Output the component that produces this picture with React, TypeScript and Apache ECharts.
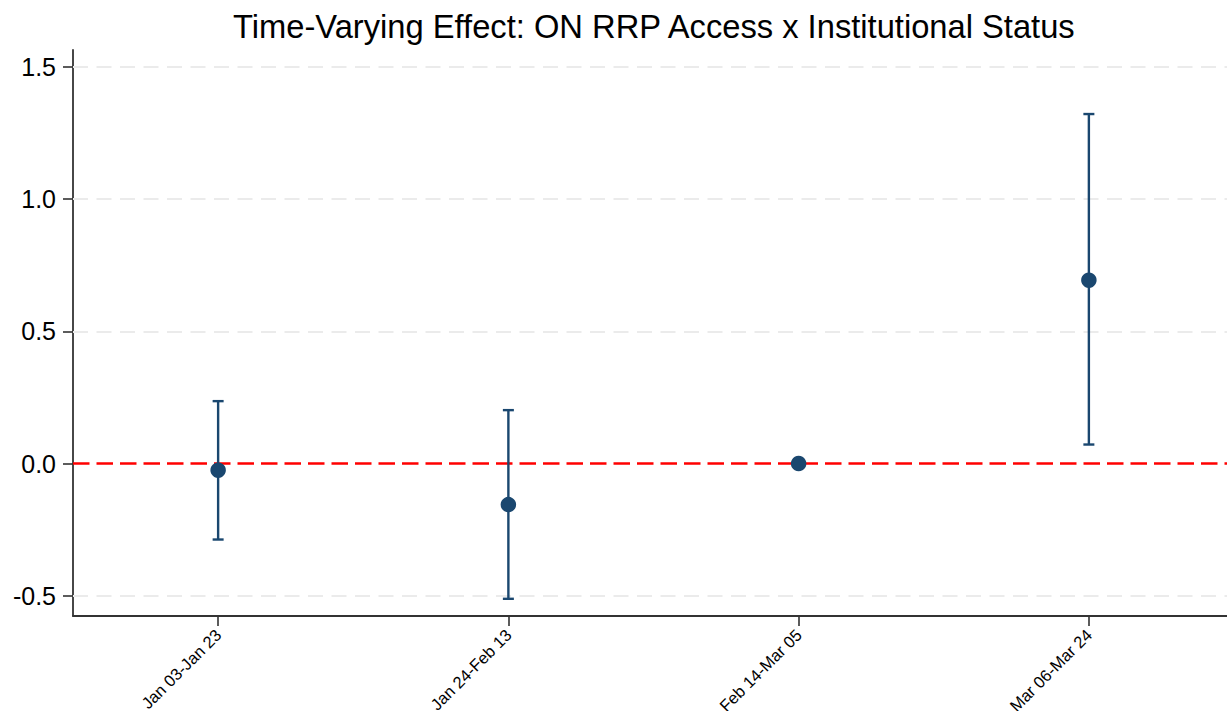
import React, { useEffect, useRef } from "react";
import * as echarts from "echarts";

const categories = ["Jan 03-Jan 23", "Jan 24-Feb 13", "Feb 14-Mar 05", "Mar 06-Mar 24"];
const estimates = [-0.025, -0.155, 0.0, 0.693];
const lowerCI = [-0.287, -0.511, 0.0, 0.072];
const upperCI = [0.236, 0.202, 0.0, 1.321];
const yTicks = [-0.5, 0, 0.5, 1.0, 1.5];
const gridValues = [-0.5, 0.5, 1.0, 1.5];

const NAVY = "#1a476f";

export default function App() {
  const ref = useRef<HTMLDivElement>(null);
  useEffect(() => {
    if (!ref.current) return;
    const chart = echarts.init(ref.current, undefined, { renderer: "svg" });
    const ciData = categories.map((_, i) => [i, lowerCI[i], upperCI[i]]);
    const option: any = {
      animation: false,
      backgroundColor: "#ffffff",
      title: {
        text: "Time-Varying Effect: ON RRP Access x Institutional Status",
        left: 233,
        top: 10,
        padding: 0,
        textStyle: {
          fontFamily: "Liberation Sans, Arial, sans-serif",
          fontSize: 32.7,
          fontWeight: "normal",
          color: "#000000",
        },
      },
      grid: { left: 73, right: 0, top: 50, bottom: 95, containLabel: false, outerBoundsMode: "none" },
      xAxis: {
        type: "category",
        data: categories,
        boundaryGap: true,
        axisLine: { show: true, onZero: false, lineStyle: { color: "#333333", width: 1.8 } },
        axisTick: { show: true, alignWithLabel: true, interval: 0, length: 10, lineStyle: { color: "#333333", width: 1.6 } },
        axisLabel: {
          interval: 0,
          rotate: 45,
          margin: 16,
          fontFamily: "Liberation Sans, Arial, sans-serif",
          fontSize: 16.5,
          color: "#000000",
        },
        splitLine: { show: false },
      },
      yAxis: {
        type: "value",
        min: -0.576,
        max: 1.563,
        axisLine: { show: true, lineStyle: { color: "#333333", width: 1.8 } },
        axisTick: { show: true, length: 10, customValues: yTicks, lineStyle: { color: "#333333", width: 1.6 } },
        axisLabel: {
          customValues: yTicks,
          margin: 17,
          fontFamily: "Liberation Sans, Arial, sans-serif",
          fontSize: 25,
          color: "#000000",
          formatter: (v: number) => v.toFixed(1),
        },
        splitLine: { show: false },
      },
      series: [
        {
          type: "line",
          data: [],
          z: 1,
          markLine: {
            silent: true,
            symbol: "none",
            z: 1,
            label: { show: false },
            data: [
              ...gridValues.map((v) => ({
                yAxis: v,
                lineStyle: { color: "#ebebeb", width: 2, type: [15, 8.5] },
              })),
              { yAxis: 0, lineStyle: { color: "#ff0000", width: 2.6, type: [16.5, 7] } },
            ],
          },
        },
        {
          type: "custom",
          z: 5,
          data: ciData,
          renderItem: (params: any, api: any) => {
            const x = api.value(0);
            const lo = api.value(1);
            const hi = api.value(2);
            if (lo === hi) return { type: "group", children: [] };
            const top = api.coord([x, hi]);
            const bot = api.coord([x, lo]);
            const hw = 5.5;
            const style = { stroke: NAVY, lineWidth: 2.4 };
            return {
              type: "group",
              children: [
                { type: "line", shape: { x1: top[0], y1: top[1], x2: bot[0], y2: bot[1] }, style },
                { type: "line", shape: { x1: top[0] - hw, y1: top[1], x2: top[0] + hw, y2: top[1] }, style },
                { type: "line", shape: { x1: bot[0] - hw, y1: bot[1], x2: bot[0] + hw, y2: bot[1] }, style },
              ],
            };
          },
        },
        {
          type: "scatter",
          z: 6,
          symbol: "circle",
          symbolSize: 15.5,
          itemStyle: { color: NAVY, opacity: 1 },
          data: categories.map((_, i) => [i, estimates[i]]),
        },
      ],
    };
    chart.setOption(option);
    return () => chart.dispose();
  }, []);
  return (
    <div style={{ position: "fixed", left: 0, top: 0, width: 1227, height: 711, overflow: "hidden", background: "#fff" }}>
      <div ref={ref} style={{ position: "absolute", left: 0, top: 0, width: 1234, height: 711 }} />
    </div>
  );
}
